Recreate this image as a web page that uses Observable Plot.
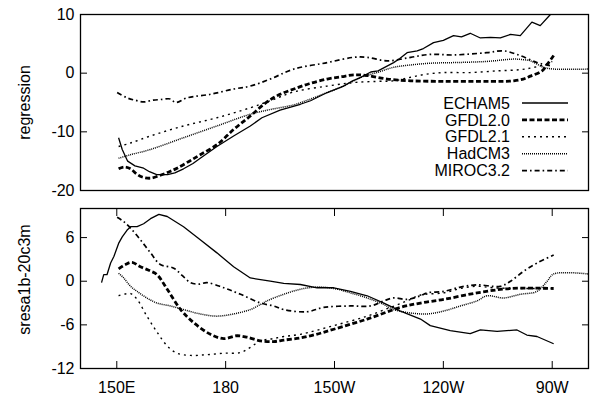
<!DOCTYPE html>
<html>
<head>
<meta charset="utf-8">
<script src="https://cdn.jsdelivr.net/npm/d3@7"></script>
<script src="https://cdn.jsdelivr.net/npm/@observablehq/plot@0.6"></script>
<style>
  body { margin: 0; background: white; }
  #chart { position: relative; width: 592px; height: 397px; font-family: "Liberation Sans", Arial, sans-serif; }
  #chart svg { position: absolute; left: 0; }
</style>
</head>
<body>
<div id="chart"></div>
<script>
// ---- data ----
const models = ["ECHAM5", "GFDL2.0", "GFDL2.1", "HadCM3", "MIROC3.2"];

const xTickValues = [150, 180, 210, 240, 270];
const xTickLabels = ["150E", "180", "150W", "120W", "90W"];

const topYTicks = [10, 0, -10, -20];
const bottomYTicks = [6, 0, -6, -12];

// top panel: regression  [lon, value]
const topECHAM5 = [[150.5,-11.0],[151.5,-13.0],[153,-15.0],[155,-15.8],[157.4,-16.2],[159,-16.8],[161,-17.3],[164,-17.3],[166,-17.0],[168.4,-16.3],[171,-15.4],[173,-14.5],[177.6,-12.5],[182.2,-10.7],[186.8,-9.0],[190,-7.6],[195,-6.3],[200.6,-5.3],[203.4,-4.7],[208,-3.3],[212.5,-2.2],[215,-1.3],[217.1,-0.75],[220,0.2],[222,0.4],[226.3,1.8],[228,2.5],[230,3.5],[232.8,3.8],[234.5,4.2],[237.3,5.2],[240,5.6],[242.8,6.4],[245,6.2],[247.4,6.8],[250.2,6.0],[253,6.1],[255.7,6.0],[258.5,6.6],[261.2,6.4],[264.4,8.7],[266.7,8.1],[269.5,10],[271,11.5]];
const topGFDL20 = [[150.5,-16.3],[152,-16.0],[153.8,-16.3],[155.5,-17.2],[157,-17.7],[159.3,-17.9],[162,-17.4],[164.5,-16.8],[166.6,-16.2],[170,-15.0],[173,-13.9],[177.6,-12.2],[182.2,-9.6],[186.8,-7.3],[191.4,-4.9],[195,-3.6],[198.8,-2.7],[203,-1.8],[208,-1.0],[212,-0.6],[215.3,-0.3],[219,-0.4],[224.5,-1.0],[231,-1.3],[240,-1.4],[250,-1.4],[256,-1.4],[259.4,-1.3],[262,-1.0],[264,-0.5],[267.2,0.4],[269,1.8],[270.4,3.0]];
const topGFDL21 = [[150.5,-12.5],[153.8,-11.9],[159.3,-10.7],[168.4,-9.0],[177.6,-7.6],[186.8,-5.9],[192.3,-4.7],[198.8,-3.2],[208,-2.2],[215.3,-1.6],[221.7,-1.4],[226.3,-1.3],[231,-0.7],[235,-0.2],[240,0.1],[247.4,0.1],[255,0.4],[261.2,0.6],[265,1.0],[268.6,1.6],[270,2.0]];
const topHadCM3 = [[150.5,-14.5],[153.8,-13.9],[159.3,-13.0],[168.4,-11.0],[177.6,-9.0],[186.8,-7.0],[192.3,-6.2],[198.8,-5.4],[203,-4.5],[208,-3.3],[212.5,-2.2],[217.1,-0.75],[221.7,0.1],[226.3,1.0],[231,1.4],[236.4,1.7],[242.8,1.8],[252,2.0],[259.4,2.4],[262,2.3],[264,2.1],[267.6,1.0],[270.4,0.7],[280,0.7]];
const topMIROC32 = [[150.1,-3.3],[152.8,-4.2],[155,-4.6],[157.4,-4.9],[160,-4.6],[162,-4.5],[164.8,-4.4],[166.2,-5.0],[169.4,-4.2],[175.8,-3.6],[182.2,-2.7],[186.8,-2.2],[192.3,-1.0],[198.8,0.7],[208,1.8],[215.3,2.7],[219,2.7],[224.5,2.1],[231,2.7],[236.4,3.2],[242.8,3.1],[252,3.5],[256.6,3.8],[261.2,3.0],[265.8,1.8],[268.6,1.4],[270,1.2]];

// bottom panel: sresa1b-20c3m  [lon, value]
const botECHAM5 = [[145.8,-0.2],[146.4,0.9],[147.3,0.9],[148.3,2.5],[149.2,3.4],[150.5,5.2],[151.5,6.1],[152.8,7.0],[153.8,7.5],[155.6,7.5],[157.4,7.9],[159.3,8.6],[161.6,9.2],[163.9,8.9],[168.4,7.5],[173,5.7],[177.6,3.9],[182.2,2.0],[186.8,0.45],[192.3,0.0],[196,-0.3],[200.6,-0.45],[205.2,-0.9],[209.8,-0.9],[214.4,-1.4],[219,-2.0],[223.6,-3.0],[228.2,-4.1],[233.7,-5.2],[236.4,-6.1],[241.9,-6.8],[247.4,-7.2],[250.2,-6.7],[254.8,-6.9],[260.3,-6.7],[263,-7.4],[265.8,-7.6],[270.4,-8.6]];
const botGFDL20 = [[150.5,1.7],[152.4,2.3],[154.2,2.6],[156.5,2.0],[159.3,1.4],[161.1,0.9],[163.9,-1.1],[167.6,-3.9],[171.2,-5.7],[175.8,-7.3],[179.5,-7.9],[183.1,-7.5],[185.9,-7.7],[189.6,-8.2],[193.2,-8.3],[196,-8.1],[200.6,-7.8],[205,-7.3],[209.8,-6.6],[219,-5.2],[228.2,-3.6],[233.7,-3.0],[240.1,-2.5],[249.3,-1.6],[258.5,-1.0],[270.4,-1.0]];
const botGFDL21 = [[150.5,-2.0],[153.8,-1.7],[155.6,-2.5],[158.3,-4.8],[161.1,-7.0],[163.9,-8.9],[166.6,-9.9],[170.3,-10.2],[174.9,-10.1],[179.5,-9.9],[184.1,-9.8],[186.8,-9.1],[189.6,-8.2],[193,-7.9],[196,-7.6],[200.6,-7.3],[209.8,-6.1],[219,-4.8],[225.4,-3.6],[230,-2.7],[233.7,-1.9],[240.1,-1.6],[244.7,-1.0],[249.3,-0.7],[253.8,-0.9],[262,-1.0],[270,-1.0]];
const botHadCM3 = [[150.5,1.1],[151.9,0.45],[153.8,-0.7],[155.6,-1.4],[158.3,-2.3],[161.1,-3.0],[164.8,-3.4],[168.4,-3.9],[173,-4.5],[177.6,-4.8],[182.2,-4.5],[186.8,-3.9],[189.6,-3.2],[191.4,-2.7],[196,-1.8],[200.6,-1.1],[205.2,-0.8],[209.8,-1.0],[214.4,-1.6],[219,-2.3],[223.6,-3.2],[226.3,-3.9],[230,-4.3],[235.5,-4.5],[240.1,-4.1],[244.7,-3.4],[249.3,-2.7],[252,-2.0],[256.6,-2.3],[261.2,-1.8],[265.8,-1.4],[268.6,0.0],[270.4,1.0],[280,1.0]];
const botMIROC32 = [[150.1,8.8],[151.9,8.2],[153.8,7.3],[156.5,5.7],[159.3,3.9],[162,2.3],[165.7,1.8],[168,0.8],[170.3,-0.2],[172.5,-0.4],[174.9,-0.2],[179.5,-0.9],[184.1,-1.8],[189.6,-3.0],[193.2,-3.4],[196,-3.9],[202.4,-4.2],[207,-3.6],[214.4,-3.4],[219.9,-3.4],[223.6,-2.7],[226.3,-2.3],[230,-2.5],[233.7,-2.0],[235.5,-1.6],[240.1,-1.4],[244.7,-0.8],[249.3,-0.5],[255.7,-0.7],[258.5,0.0],[262.2,1.4],[265.8,2.5],[270.4,3.6]];

// ---- styles ----
const lineStyles = {
  "ECHAM5":   {strokeWidth: 1.3, strokeDasharray: null},
  "GFDL2.0":  {strokeWidth: 2.8, strokeDasharray: "5,2.5"},
  "GFDL2.1":  {strokeWidth: 1.4, strokeDasharray: "2,4"},
  "HadCM3":   {strokeWidth: 1.5, strokeDasharray: "1,1"},
  "MIROC3.2": {strokeWidth: 1.7, strokeDasharray: "5,3,1.6,3"}
};

const W = 592;
const fontFamily = "Liberation Sans, Arial, Helvetica, sans-serif";
const fs = 16;

function lineMarks(seriesList) {
  return seriesList.map(([name, data]) => Plot.line(data, {
    x: d => d[0], y: d => d[1], stroke: "black",
    strokeWidth: lineStyles[name].strokeWidth,
    strokeDasharray: lineStyles[name].strokeDasharray,
    strokeLinecap: "butt",
    strokeLinejoin: "round",
    curve: name === "ECHAM5" ? "linear" : "catmull-rom",
    clip: true
  }));
}

function panel({height, marginTop, marginBottom, yDomain, yLabelTicks, yInnerTicks, xTicks, showXLabels, series, label, labelDy}) {
  const marks = [
    ...lineMarks(series),
    Plot.frame({stroke: "black", strokeWidth: 1.3}),
    Plot.axisY(yLabelTicks, {anchor: "left", tickSize: 0, tickPadding: 6, tickFormat: d => String(d), fontSize: fs, label: null}),
    Plot.axisY(yInnerTicks, {anchor: "left", tickSize: -7, tickFormat: () => "", label: null}),
    Plot.axisY(yInnerTicks, {anchor: "right", tickSize: -7, tickFormat: () => "", label: null}),
    Plot.text([label], {text: d => d, frameAnchor: "left", textAnchor: "middle", lineAnchor: "middle", rotate: -90, dx: -56, dy: labelDy, fontSize: fs})
  ];
  if (xTicks) {
    marks.push(Plot.axisX(xTicks, {anchor: "top", tickSize: -7, tickFormat: () => "", label: null}));
    marks.push(Plot.axisX(xTicks, {anchor: "bottom", tickSize: -7, tickFormat: () => "", label: null}));
  }
  if (showXLabels) {
    marks.push(Plot.axisX(xTickValues, {anchor: "bottom", tickSize: 0, tickPadding: 13,
      tickFormat: d => xTickLabels[xTickValues.indexOf(d)], fontSize: fs, label: null}));
  }
  return Plot.plot({
    width: W, height,
    marginLeft: 80, marginRight: 4, marginTop, marginBottom,
    x: {domain: [140, 280], axis: null},
    y: {domain: yDomain, axis: null},
    style: {fontFamily, fontSize: fs + "px", background: "transparent", overflow: "visible"},
    marks
  });
}

const chart = document.getElementById("chart");

const topSvg = panel({
  height: 197, marginTop: 14, marginBottom: 7, yDomain: [-20, 10],
  yLabelTicks: topYTicks, yInnerTicks: [0, -10], xTicks: null, showXLabels: false,
  series: [["ECHAM5", topECHAM5], ["GFDL2.0", topGFDL20], ["GFDL2.1", topGFDL21], ["HadCM3", topHadCM3], ["MIROC3.2", topMIROC32]],
  label: "regression", labelDy: 0
});
topSvg.style.top = "0px";
chart.appendChild(topSvg);

const botSvg = panel({
  height: 200, marginTop: 11, marginBottom: 29, yDomain: [-12, 10],
  yLabelTicks: bottomYTicks, yInnerTicks: [6, 0, -6], xTicks: xTickValues, showXLabels: true,
  series: [["ECHAM5", botECHAM5], ["GFDL2.0", botGFDL20], ["GFDL2.1", botGFDL21], ["HadCM3", botHadCM3], ["MIROC3.2", botMIROC32]],
  label: "sresa1b-20c3m", labelDy: -9
});
botSvg.style.top = "197px";
chart.appendChild(botSvg);

// ---- legend (inside the top panel, lower right) ----
const legendX = 510, legendY0 = 103, legendStep = 16.9;
const leg = d3.select(chart).append("svg")
  .attr("width", W).attr("height", 397)
  .style("top", "0px").style("pointer-events", "none")
  .style("font-family", fontFamily).style("font-size", fs + "px");
models.forEach((m, i) => {
  const y = legendY0 + i * legendStep;
  leg.append("text").attr("x", legendX).attr("y", y).attr("dy", "0.35em")
    .attr("text-anchor", "end").attr("fill", "black").text(m);
  leg.append("line").attr("x1", legendX + 12).attr("x2", legendX + 58)
    .attr("y1", y).attr("y2", y).attr("stroke", "black")
    .attr("stroke-width", lineStyles[m].strokeWidth)
    .attr("stroke-dasharray", lineStyles[m].strokeDasharray);
});
</script>
</body>
</html>
